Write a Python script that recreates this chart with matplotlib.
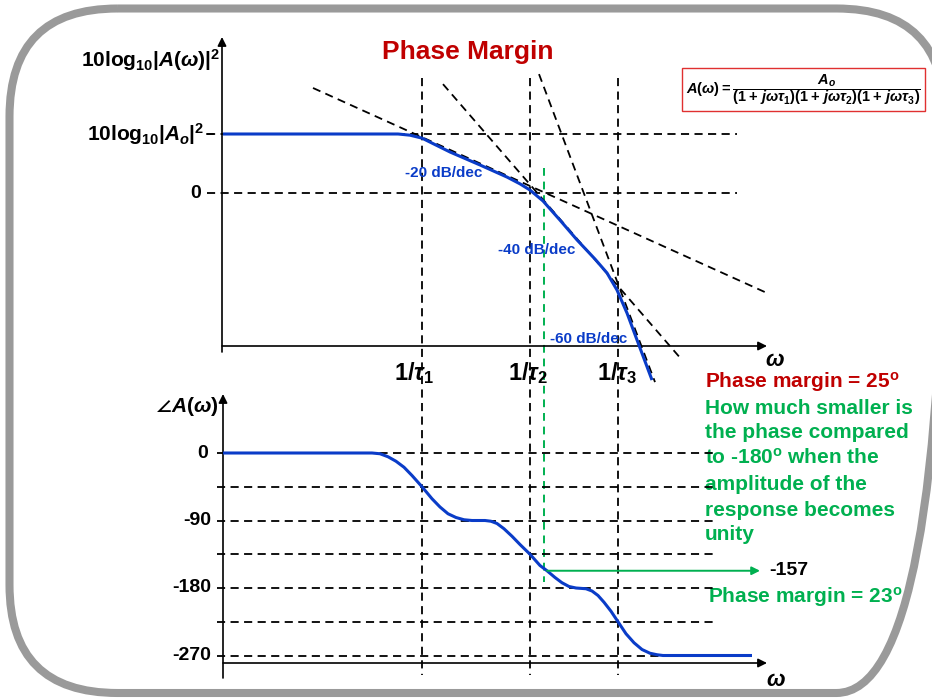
import numpy as np
import matplotlib.pyplot as plt
from matplotlib.patches import FancyBboxPatch, Rectangle

plt.rcParams['font.family'] = ['Liberation Sans', 'DejaVu Sans']
plt.rcParams['font.weight'] = 'bold'
plt.rcParams['mathtext.fontset'] = 'custom'
plt.rcParams['mathtext.rm'] = 'Liberation Sans:bold'
plt.rcParams['mathtext.it'] = 'Liberation Sans:italic:bold'
plt.rcParams['mathtext.bf'] = 'Liberation Sans:bold'

BLUE = '#0a3cc8'
RED = '#c00000'
GREEN = '#00b050'
DASH = (0, (4.5, 3))
LW_DASH = 1.3

# Frequency positions along the slide's omega axis (left to right)
w_break = [422, 530, 618]            # 1/tau1, 1/tau2, 1/tau3
w_labels = [r'$1/\tau_1$', r'$1/\tau_2$', r'$1/\tau_3$']
w_label_pos = [414, 528, 617]
w_unity = 544                        # where |A| = 1 (0 dB)

# Magnitude plot (dB), Ao level drawn at 20 dB
mag_ao_db = 20.0
mag_w = [223, 398, 410, 422, 450, 480, 507, 520, 530, 543, 560, 577, 595,
         607, 617, 627, 637, 652]
mag_db = [20.0, 20.0, 19.6, 18.6, 13.9, 9.5, 5.4, 3.1, 1.0, -2.7, -9.2,
          -15.9, -22.4, -27.1, -32.9, -40.7, -49.8, -63.4]

# Asymptotes (start / end points)
asym_w = [(313, 765), (443, 682), (539, 655)]
asym_db = [(35.6, -33.6), (36.9, -56.6), (40.3, -64.1)]
slope_labels = ['-20 dB/dec', '-40 dB/dec', '-60 dB/dec']
slope_label_w = [405, 498, 550]
slope_label_db = [6.8, -19.3, -49.5]

# Phase plot (degrees)
phase_levels = [0, -45, -90, -135, -180, -225, -270]
phase_ticks = [0, -90, -180, -270]
phase_w = [223, 372, 380, 388, 396, 404, 412, 422, 432, 440, 448, 456, 464,
           472, 485, 491, 497, 504, 512, 520, 530, 540, 547, 555, 562, 569,
           576, 586, 592, 598, 604, 611, 618, 626, 634, 642, 650, 657, 663,
           752]
phase_deg = [0, 0, -1, -5, -11, -19, -30, -45, -61, -72, -81, -86, -89,
             -90, -90, -91, -94, -101, -111, -122, -135, -150, -157, -166,
             -173, -178, -180, -181, -184, -190, -199, -211, -225, -241,
             -253, -262, -267, -269, -270, -270]
phase_at_unity = -157

fig = plt.figure(figsize=(9.32, 6.98), dpi=100)
ax = fig.add_axes([0, 0, 1, 1])
ax.set_xlim(0, 932)
ax.set_ylim(698, 0)
ax.axis('off')

# magnitude axes: 0 dB at row 193, 2.95 px per dB
ax_mag = fig.add_axes([0, 0, 1, 1])
ax_mag.set_xlim(0, 932)
ax_mag.set_ylim((193 - 698) / 2.95, 193 / 2.95)
ax_mag.axis('off')
ax_mag.patch.set_alpha(0)

# phase axes: 0 deg at row 453, 0.75 px per degree
ax_ph = fig.add_axes([0, 0, 1, 1])
ax_ph.set_xlim(0, 932)
ax_ph.set_ylim((453 - 698) / 0.75, 453 / 0.75)
ax_ph.axis('off')
ax_ph.patch.set_alpha(0)

# slide frame (right side runs off the slide)
frame = FancyBboxPatch((9.5, 8.5), 935, 684.5,
                       boxstyle='round,pad=0,rounding_size=108',
                       fill=False, ec='#9a9a9a', lw=5.8)
ax.add_patch(frame)

# axes with arrows
arrow = dict(arrowstyle='-|>', lw=1.2, color='k', mutation_scale=13,
             shrinkA=0, shrinkB=0)
ax.annotate('', xy=(222, 37), xytext=(222, 352), arrowprops=arrow)
ax.annotate('', xy=(767, 346), xytext=(222, 346), arrowprops=arrow)
ax.annotate('', xy=(223, 394), xytext=(223, 678), arrowprops=arrow)
ax.annotate('', xy=(767, 663), xytext=(223, 663), arrowprops=arrow)

# vertical break frequency lines
for w in w_break:
    ax.plot([w, w], [78, 675], color='k', lw=LW_DASH, ls=DASH)

# magnitude reference lines and asymptotes
for lvl in [mag_ao_db, 0]:
    ax_mag.plot([207, 737], [lvl, lvl], color='k', lw=LW_DASH, ls=DASH)
for (w0, w1), (d0, d1) in zip(asym_w, asym_db):
    ax_mag.plot([w0, w1], [d0, d1], color='k', lw=LW_DASH, ls=DASH)
ax_mag.plot(mag_w, mag_db, color=BLUE, lw=2.2, solid_capstyle='butt',
            solid_joinstyle='round')
for lab, w, d in zip(slope_labels, slope_label_w, slope_label_db):
    ax_mag.text(w, d, lab, color=BLUE, fontsize=11, fontweight='bold',
                ha='left', va='center')

# phase reference lines and curve
for lvl in phase_levels:
    ax_ph.plot([217, 715], [lvl, lvl], color='k', lw=LW_DASH, ls=DASH)
ax_ph.plot(phase_w, phase_deg, color=BLUE, lw=2.2, solid_capstyle='butt',
           solid_joinstyle='round')
for t in phase_ticks:
    ax_ph.text(211 if t else 208, t, str(t), fontsize=14, fontweight='bold',
               ha='right', va='center')

# unity-gain marker
ax.plot([w_unity, w_unity], [168, 582], color=GREEN, lw=1.4, ls=(0, (4, 3)))
ax_ph.annotate('', xy=(760, phase_at_unity), xytext=(547, phase_at_unity),
               arrowprops=dict(arrowstyle='-|>', lw=1.4, color=GREEN,
                               mutation_scale=12, shrinkA=0, shrinkB=0))
ax_ph.text(769, phase_at_unity, str(phase_at_unity), fontsize=14,
           fontweight='bold', ha='left', va='center')

# axis labels
ax.text(220, 60, r'$\mathrm{10log}_{10}|A(\omega)|^{2}$', fontsize=15,
        ha='right', va='center')
ax.text(204, 134, r'$\mathrm{10log}_{10}|A_o|^{2}$', fontsize=15,
        ha='right', va='center')
ax.plot([207, 213], [134, 134], color='k', lw=1.2)
ax.text(201, 193, '0', fontsize=14, fontweight='bold', ha='right',
        va='center')
ax.text(219, 406, r'$\angle A(\omega)$', fontsize=15, ha='right',
        va='center')
ax.text(775, 361, r'$\omega$', fontsize=16, ha='center', va='center')
ax.text(776, 680, r'$\omega$', fontsize=16, ha='center', va='center')
for lab, x in zip(w_labels, w_label_pos):
    ax.text(x, 373, lab, fontsize=17, ha='center', va='center')

# title
ax.text(468, 52, 'Phase Margin', color=RED, fontsize=19, fontweight='bold',
        ha='center', va='center')

# transfer function box
ax.add_patch(Rectangle((682, 68), 243, 43, fc='white', ec='#e03030', lw=1))
ax.text(803, 90,
        r'$A(\omega)=\dfrac{A_o}{(1+\,j\omega\tau_1)(1+\,j\omega\tau_2)'
        r'(1+\,j\omega\tau_3)}$', fontsize=10.5, ha='center', va='center')

# explanation text
ax.text(705, 382, r'Phase margin = 25$^{\mathrm{o}}$', color=RED, fontsize=15,
        fontweight='bold', ha='left', va='center')
notes = ['How much smaller is', 'the phase compared',
         r'to -180$^{\mathrm{o}}$ when the', 'amplitude of the',
         'response becomes', 'unity']
note_rows = [408, 433, 458, 484, 510, 535]
for s, y in zip(notes, note_rows):
    ax.text(705, y, s, color=GREEN, fontsize=15, fontweight='bold',
            ha='left', va='center')
ax.text(708, 597, r'Phase margin = 23$^{\mathrm{o}}$', color=GREEN,
        fontsize=15, fontweight='bold', ha='left', va='center')

fig.savefig('out.png', dpi=100)
